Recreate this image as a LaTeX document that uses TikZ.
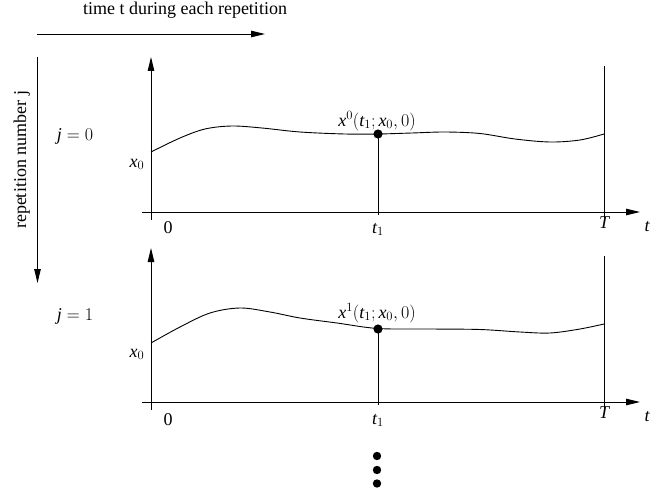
\documentclass[tikz,border=0pt]{standalone}
\usepackage{fix-cm}
\usepackage{fontspec}
\setmainfont{Liberation Serif}
\usetikzlibrary{arrows.meta}
\tikzset{
  ln/.style={line width=0.9pt, black},
  arr/.style={ln, -{Triangle[length=14pt,width=6.5pt]}},
  lbl/.style={inner sep=0pt, anchor=base, font=\fontsize{18}{20}\selectfont},
  dotpt/.style={fill=black, draw=none},
}
\begin{document}
\begin{tikzpicture}[x=1pt,y=-1pt]
\useasboundingbox (0,0) rectangle (667,495);
% direction arrows
\coordinate (ta) at (37,34); \coordinate (tb) at (265,34);
\draw[arr] (ta) -- (tb);
\node[lbl] (ttext) at (185,15) {time t during each repetition};
\coordinate (ra) at (37.5,57); \coordinate (rb) at (37.5,283);
\draw[arr] (ra) -- (rb);
\node[lbl, rotate=90] (rtext) at (26,160) {repetition number j};
% ---------- panel 1 ----------
\coordinate (v1a) at (151,220); \coordinate (v1b) at (151,57);
\coordinate (h1a) at (142,212); \coordinate (h1b) at (640,212);
\draw[arr] (v1a) -- (v1b);
\draw[arr] (h1a) -- (h1b);
\coordinate (T1a) at (604,66); \coordinate (T1b) at (604,220);
\draw[ln] (T1a) -- (T1b);
\draw[ln] plot[smooth, tension=0.55] coordinates {(151,152) (180,138) (205,129) (232,126) (262,128) (300,132) (345,134) (378,134) (412,133) (445,132) (480,133.5) (515,139) (550,142) (580,140) (604,134)};
\coordinate (p1) at (378,134); \coordinate (p1b) at (378,215);
\draw[ln] (p1) -- (p1b);
\fill[dotpt] (p1) circle (4.6);
\node[lbl] (j0) at (75,140) {$\mathit{j}=0$};
\node[lbl] (x01) at (137,167) {$\mathit{x}_{0}$};
\node[lbl] (z1) at (168,233) {0};
\node[lbl] (t11) at (378,233) {$\mathit{t}_{1}$};
\node[lbl] (T1) at (604,228) {$\mathit{T}$};
\node[lbl] (tt1) at (647,231) {$\mathit{t}$};
\node[lbl] (lab1) at (377,126) {$\mathit{x}^{0}(\mathit{t}_{1};\mathit{x}_{0},0)$};
% ---------- panel 2 ----------
\coordinate (v2a) at (151,410); \coordinate (v2b) at (151,248);
\coordinate (h2a) at (142,402); \coordinate (h2b) at (640,402);
\draw[arr] (v2a) -- (v2b);
\draw[arr] (h2a) -- (h2b);
\coordinate (T2a) at (604,256); \coordinate (T2b) at (604,410);
\draw[ln] (T2a) -- (T2b);
\draw[ln] plot[smooth, tension=0.55] coordinates {(151,343) (180,327) (210,313) (240,308) (270,312) (300,318) (337,323) (378,328.5) (430,329) (480,329.5) (520,332) (550,333) (580,329) (604,324)};
\coordinate (p2) at (378,329); \coordinate (p2b) at (378,405);
\draw[ln] (p2) -- (p2b);
\fill[dotpt] (p2) circle (4.6);
\node[lbl] (j1) at (75,320) {$\mathit{j}=1$};
\node[lbl] (x02) at (137,357) {$\mathit{x}_{0}$};
\node[lbl] (z2) at (168,425) {0};
\node[lbl] (t12) at (378,424) {$\mathit{t}_{1}$};
\node[lbl] (T2) at (604,418) {$\mathit{T}$};
\node[lbl] (tt2) at (647,421) {$\mathit{t}$};
\node[lbl] (lab2) at (377,318) {$\mathit{x}^{1}(\mathit{t}_{1};\mathit{x}_{0},0)$};
% continuation dots
\fill[dotpt] (377,456) circle (4.2);
\fill[dotpt] (377,470) circle (4.2);
\fill[dotpt] (377,483.5) circle (4.2);
\end{tikzpicture}
\end{document}
